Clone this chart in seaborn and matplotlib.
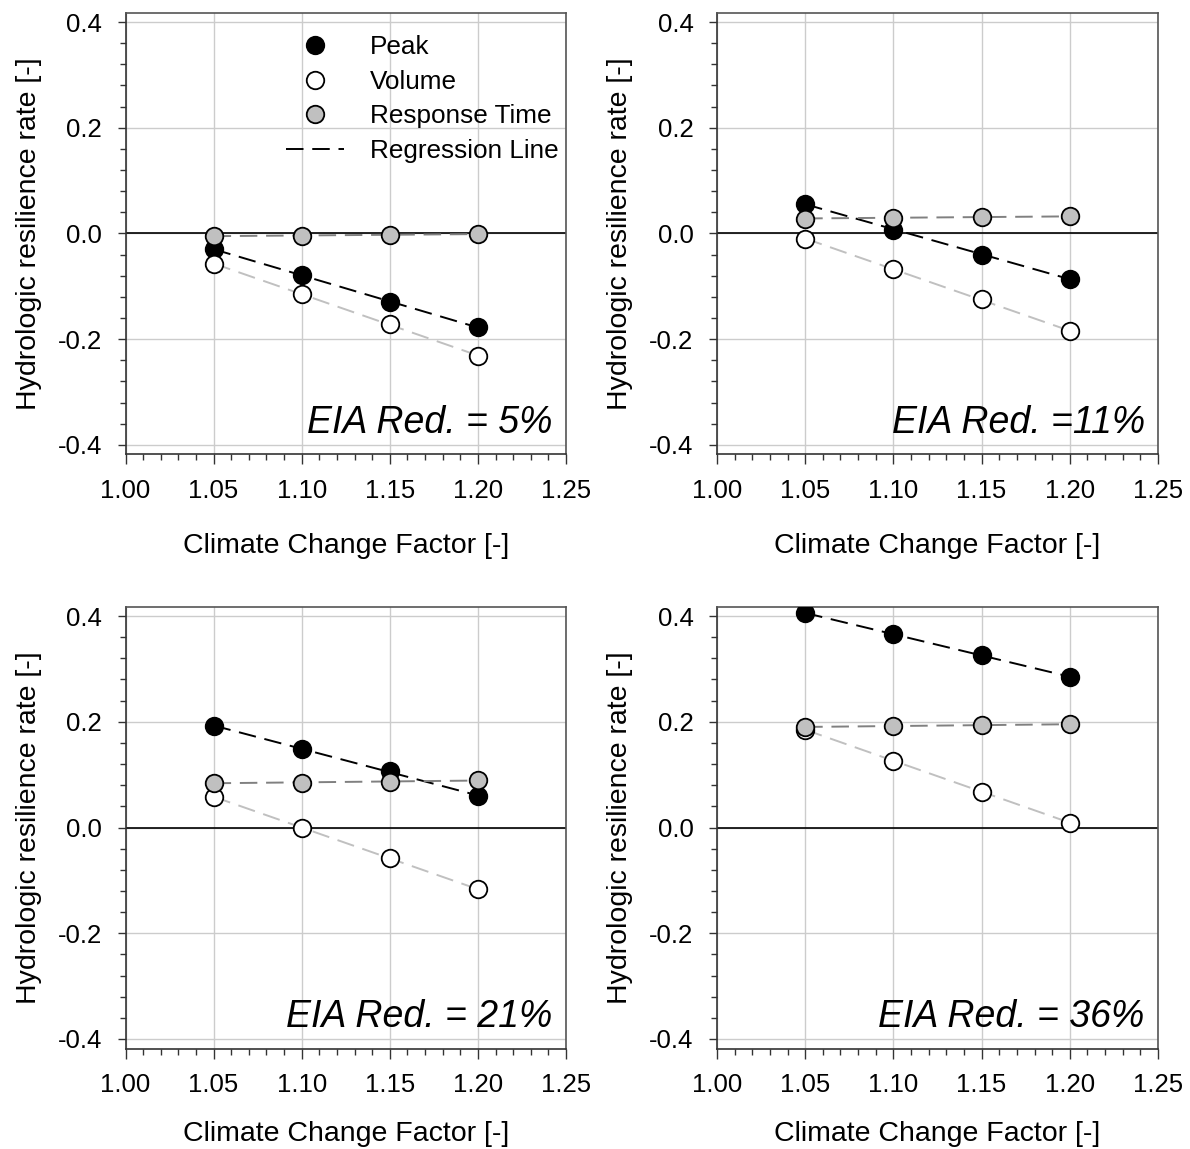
import numpy as np
import pandas as pd
import seaborn as sns
import matplotlib
matplotlib.use("Agg")
import matplotlib.pyplot as plt
from matplotlib.lines import Line2D
from matplotlib.ticker import MultipleLocator, FormatStrFormatter

# climate change factors (x)
ccf = [1.05, 1.10, 1.15, 1.20]

# EIA reduction scenarios
eia_labels = ["EIA Red. = 5%", "EIA Red. =11%", "EIA Red. = 21%", "EIA Red. = 36%"]

# hydrologic resilience rate per scenario
peak_5 = [-0.030, -0.079, -0.129, -0.178]
volume_5 = [-0.058, -0.114, -0.172, -0.232]
resp_5 = [-0.005, -0.004, -0.003, -0.001]

peak_11 = [0.056, 0.007, -0.040, -0.086]
volume_11 = [-0.010, -0.068, -0.125, -0.185]
resp_11 = [0.028, 0.030, 0.031, 0.032]

peak_21 = [0.192, 0.149, 0.107, 0.059]
volume_21 = [0.058, 0.000, -0.058, -0.117]
resp_21 = [0.084, 0.085, 0.087, 0.089]

peak_36 = [0.405, 0.366, 0.327, 0.284]
volume_36 = [0.185, 0.126, 0.068, 0.009]
resp_36 = [0.190, 0.192, 0.194, 0.195]

panels = [
    (peak_5, volume_5, resp_5),
    (peak_11, volume_11, resp_11),
    (peak_21, volume_21, resp_21),
    (peak_36, volume_36, resp_36),
]

series_names = ["Peak", "Volume", "Response Time"]
marker_colors = {"Peak": "black", "Volume": "white", "Response Time": "#c0c0c0"}
line_colors = {"Peak": "black", "Volume": "#c0c0c0", "Response Time": "#808080"}

sns.set_theme(style="white")
plt.rcParams["font.family"] = ["Liberation Sans", "DejaVu Sans"]
plt.rcParams["axes.unicode_minus"] = False
plt.rcParams["text.color"] = "black"
plt.rcParams["axes.labelcolor"] = "black"
plt.rcParams["xtick.color"] = "black"
plt.rcParams["ytick.color"] = "black"

fig = plt.figure(figsize=(11.9, 11.49), dpi=100)

W, H = 1190, 1149
positions = [
    (125.5, 12.5, 566, 454.3),
    (717, 12.5, 1158, 454.3),
    (125.5, 606.5, 566, 1048.5),
    (717, 606.5, 1158, 1048.5),
]

for i, (pos, data) in enumerate(zip(positions, panels)):
    x0, y0, x1, y1 = pos
    ax = fig.add_axes([x0 / W, 1 - y1 / H, (x1 - x0) / W, (y1 - y0) / H])

    df = pd.DataFrame({"ccf": ccf * 3,
                       "rate": data[0] + data[1] + data[2],
                       "series": np.repeat(series_names, len(ccf))})

    ax.axhline(0, color="black", lw=1.2, zorder=1.5)

    # regression lines
    for name in series_names:
        sub = df[df["series"] == name]
        sns.regplot(data=sub, x="ccf", y="rate", ax=ax, scatter=False, ci=None,
                    truncate=True,
                    line_kws=dict(color=line_colors[name], lw=1.4, dashes=(9, 4.5), zorder=2))

    # markers
    for name in series_names:
        sub = df[df["series"] == name]
        sns.scatterplot(data=sub, x="ccf", y="rate", ax=ax, s=160,
                        color=marker_colors[name], edgecolor="black",
                        linewidth=1.3, zorder=3, legend=False)

    ax.set_xlim(1.0, 1.25)
    ax.set_ylim(-0.418, 0.418)
    ax.xaxis.set_major_locator(MultipleLocator(0.05))
    ax.xaxis.set_minor_locator(MultipleLocator(0.01))
    ax.yaxis.set_major_locator(MultipleLocator(0.2))
    ax.yaxis.set_minor_locator(MultipleLocator(0.04))
    ax.xaxis.set_major_formatter(FormatStrFormatter("%.2f"))
    ax.yaxis.set_major_formatter(FormatStrFormatter("%.1f"))
    ax.grid(True, which="major", color="#cccccc", lw=1.0, zorder=0)
    ax.set_axisbelow(True)
    ax.tick_params(axis="both", which="major", direction="out", length=7, width=1,
                   color="#333333", labelsize=18.5, pad=11, bottom=True, left=True)
    ax.tick_params(axis="both", which="minor", direction="out", length=4, width=1,
                   color="#333333", bottom=True, left=True)
    ax.tick_params(axis="y", which="major", length=6)
    for sp in ax.spines.values():
        sp.set_color("#333333")
        sp.set_linewidth(1.2)
    ax.spines["top"].set_color("#555555")
    ax.spines["right"].set_color("#555555")

    ax.set_xlabel("Climate Change Factor [-]", fontsize=20.5)
    ax.set_ylabel("Hydrologic resilience rate [-]", fontsize=20.5)
    ax.xaxis.set_label_coords(0.5, -0.178 if i < 2 else -0.163)
    ax.yaxis.set_label_coords(-0.19, 0.5)

    ax.text(0.97, 0.03, eia_labels[i], transform=ax.transAxes, ha="right",
            va="bottom", fontsize=27, style="italic")

    if i == 0:
        handles = [
            Line2D([], [], ls="", marker="o", ms=12.6, mfc=marker_colors[n],
                   mec="black", mew=1.3) for n in series_names
        ]
        handles.append(Line2D([], [], color="black", lw=1.4, dashes=(9, 4.5)))
        ax.legend(handles, series_names + ["Regression Line"], loc="upper right",
                  bbox_to_anchor=(0.995, 0.96), frameon=False, fontsize=18.8,
                  handlelength=2.2, labelspacing=0.4, handletextpad=1.0,
                  borderpad=0.2, borderaxespad=0)

fig.savefig("out.png", dpi=100)
